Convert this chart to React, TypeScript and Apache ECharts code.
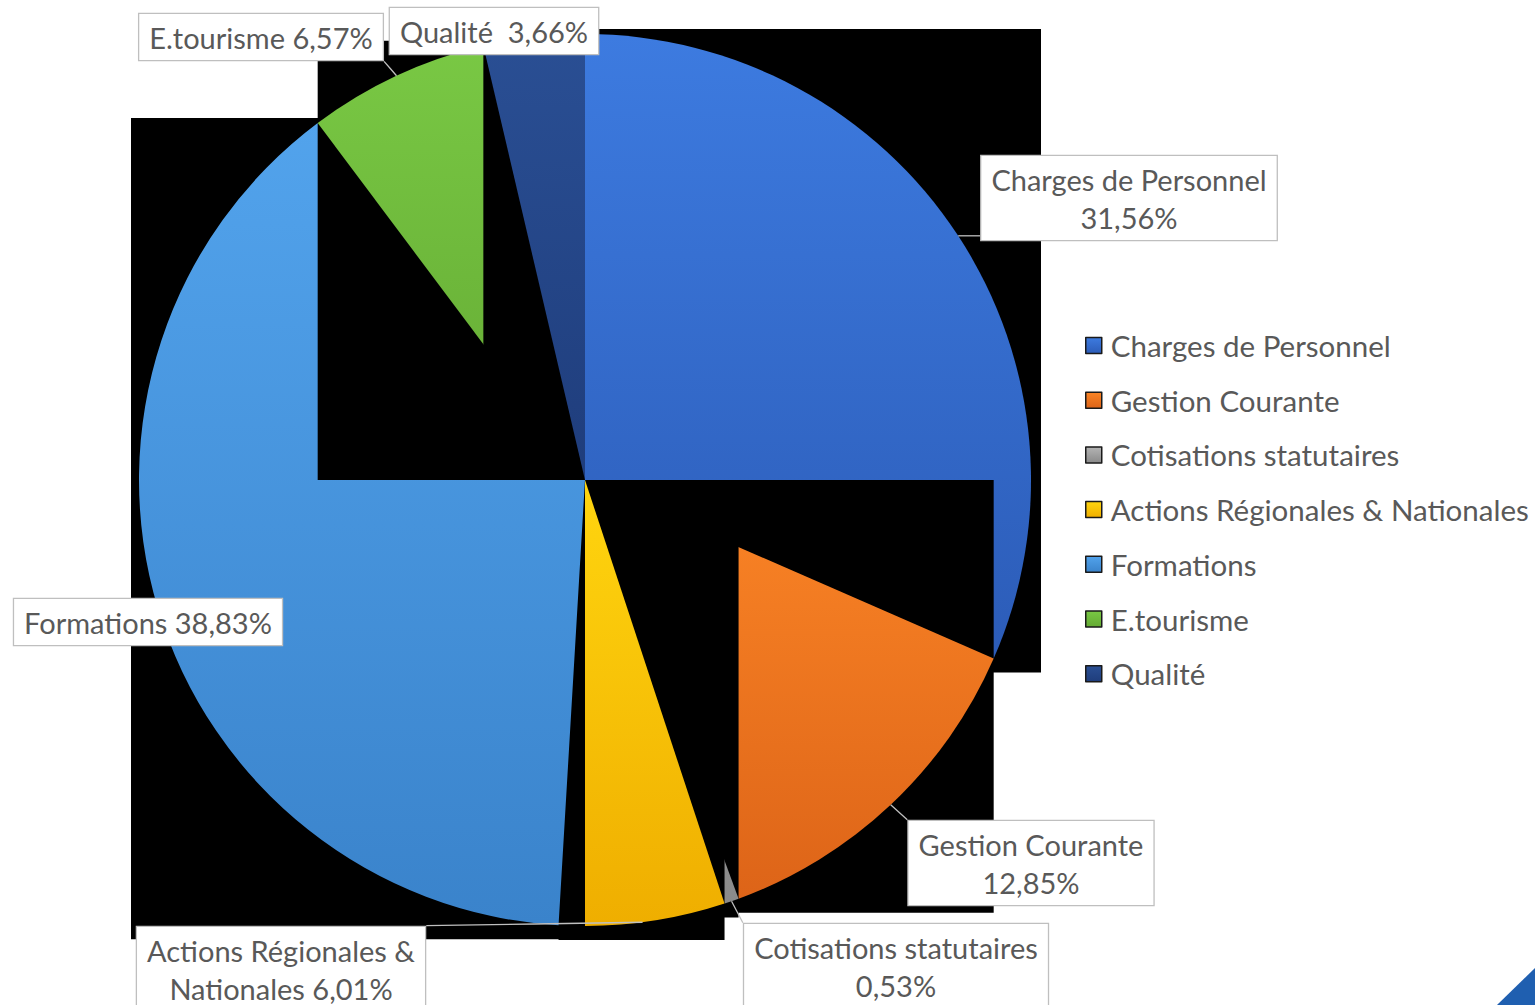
import React, { useEffect, useRef } from "react";
import * as echarts from "echarts";

// ---- data ----
const categories = [
  "Charges de Personnel",
  "Gestion Courante",
  "Cotisations statutaires",
  "Actions Régionales & Nationales",
  "Formations",
  "E.tourisme",
  "Qualité",
];
const values = [31.56, 12.85, 0.53, 6.01, 38.83, 6.57, 3.66];
// label text before the percentage (with the line breaks of the original)
const labelPrefixes = [
  "Charges de Personnel\n",
  "Gestion Courante\n",
  "Cotisations statutaires\n",
  "Actions Régionales &\nNationales ",
  "Formations ",
  "E.tourisme ",
  "Qualité  ",
];

// ---- styles / layout ----
const colorTop = ["#3d7be0", "#fb8526", "#b4b4b4", "#ffd50f", "#52a3ec", "#79c844", "#2a4f94"];
const colorBottom = ["#2c5cb8", "#dd6418", "#8a8a8a", "#efae00", "#3a83cb", "#64aa33", "#1f3d7c"];
const CX = 585;
const CY = 480;
const R = 446;
// centre of each label box
const labelCenters = [
  [1129, 198],
  [1031, 863],
  [896, 966],
  [281, 969],
  [148, 622],
  [261, 37],
  [494, 31],
];
const FONT = "Lato, 'Open Sans', sans-serif";

function grad(i: number) {
  return new echarts.graphic.LinearGradient(0, 0, 0, 1, [
    { offset: 0, color: colorTop[i] },
    { offset: 1, color: colorBottom[i] },
  ]);
}

function pt(deg: number, r: number) {
  const a = (deg * Math.PI) / 180;
  return [CX + r * Math.sin(a), CY - r * Math.cos(a)];
}

function sliceAngles() {
  const total = values.reduce((a, b) => a + b, 0);
  let acc = 0;
  return values.map((v) => {
    const a0 = (acc / total) * 360;
    acc += v;
    const a1 = (acc / total) * 360;
    return [a0, a1];
  });
}

// black bounding box of each slice (the rendering artefact of the original)
function sliceBoxes() {
  return sliceAngles().map(([a0, a1]) => {
    const pts = [[CX, CY], pt(a0, R), pt(a1, R)];
    const cards: number[] = [];
    for (const c of [0, 90, 180, 270, 360]) {
      if (c > a0 && c < a1) {
        pts.push(pt(c, R));
        cards.push(c % 360);
      }
    }
    let minX = Math.min(...pts.map((p) => p[0]));
    let maxX = Math.max(...pts.map((p) => p[0]));
    let minY = Math.min(...pts.map((p) => p[1]));
    let maxY = Math.max(...pts.map((p) => p[1]));
    if (cards.includes(270)) minX -= 8;
    if (cards.includes(90)) maxX += 10;
    if (minY < CY - 0.5) minY -= 5;
    if (maxY > CY + 0.5) maxY += 14;
    return { x: minX, y: minY, width: maxX - minX, height: maxY - minY };
  });
}

export default function App() {
  const ref = useRef<HTMLDivElement>(null);
  useEffect(() => {
    if (!ref.current) return;
    const chart = echarts.init(ref.current, undefined, { renderer: "svg" });
    const angles = sliceAngles();
    const boxes = sliceBoxes();

    const sliceSeries = categories.map((_, i) => ({
      type: "pie",
      z: 11 + 2 * i,
      center: [CX, CY],
      radius: R,
      startAngle: 90,
      clockwise: true,
      silent: true,
      avoidLabelOverlap: false,
      label: { show: false },
      labelLine: { show: false },
      emphasis: { disabled: true },
      data: values.map((v, j) => ({
        name: categories[j],
        value: v,
        itemStyle: {
          color: j === i ? grad(j) : "rgba(0,0,0,0)",
          borderWidth: 0,
        },
      })),
    }));

    const labelSeries = {
      type: "pie",
      z: 40,
      center: [CX, CY],
      radius: R,
      startAngle: 90,
      clockwise: true,
      silent: true,
      avoidLabelOverlap: false,
      emphasis: { disabled: true },
      itemStyle: { color: "rgba(0,0,0,0)", borderWidth: 0 },
      label: {
        show: true,
        position: "outside",
        formatter: (p: any) =>
          labelPrefixes[p.dataIndex] + p.value.toFixed(2).replace(".", ",") + "%",
        backgroundColor: "#ffffff",
        borderColor: "#bfbfbf",
        borderWidth: 1.3,
        padding: [4, 10, 4, 10],
        color: "#595959",
        fontSize: 29,
        lineHeight: 38,
        fontFamily: FONT,
        align: "center",
      },
      labelLine: {
        show: true,
        length: 10,
        length2: 10,
        lineStyle: { color: "#bfbfbf", width: 1.3 },
      },
      labelLayout: (params: any) => {
        const i = params.dataIndex;
        const [lx, ly] = labelCenters[i];
        const w = params.labelRect.width;
        const h = params.labelRect.height;
        const [a0, a1] = angles[i];
        const anchor = pt((a0 + a1) / 2, R);
        const bx0 = lx - w / 2;
        const bx1 = lx + w / 2;
        const by0 = ly - h / 2;
        const by1 = ly + h / 2;
        const ex = Math.min(Math.max(anchor[0], bx0), bx1);
        const ey = Math.min(Math.max(anchor[1], by0), by1);
        return {
          x: lx,
          y: ly,
          align: "center",
          verticalAlign: "middle",
          labelLinePoints: [
            anchor,
            [(anchor[0] + ex) / 2, (anchor[1] + ey) / 2],
            [ex, ey],
          ],
        };
      },
      data: values.map((v, j) => ({ name: categories[j], value: v })),
    };

    chart.setOption({
      animation: false,
      backgroundColor: "#ffffff",
      legend: {
        orient: "vertical",
        left: 1080,
        top: 324,
        itemWidth: 16,
        itemHeight: 16,
        itemGap: 21.7,
        icon: "rect",
        selectedMode: false,
        textStyle: {
          fontSize: 29.5,
          lineHeight: 33,
          color: "#595959",
          fontFamily: FONT,
          padding: [0, 0, 0, 4],
        },
        data: categories.map((n, i) => ({
          name: n,
          itemStyle: { color: grad(i), borderColor: "#1a1a1a", borderWidth: 1.5 },
        })),
      },
      graphic: [
        ...boxes.map((b, i) => ({
          type: "rect",
          z: 10 + 2 * i,
          silent: true,
          shape: b,
          style: { fill: "#000000" },
        })),
        {
          type: "polygon",
          z: 1,
          silent: true,
          shape: { points: [[1535, 968], [1535, 1005], [1497, 1005]] },
          style: { fill: "#1f5fb0" },
        },
      ],
      series: [...sliceSeries, labelSeries],
    });
    return () => chart.dispose();
  }, []);
  return (
    <div
      ref={ref}
      style={{ position: "absolute", left: 0, top: 0, width: 1535, height: 1005 }}
    />
  );
}
